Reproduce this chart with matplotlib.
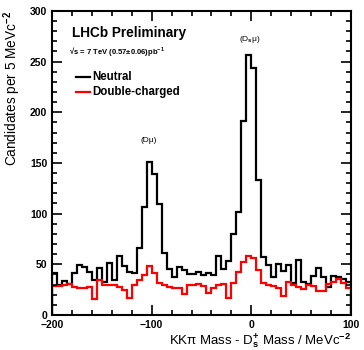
import matplotlib
matplotlib.use("Agg")
import matplotlib.pyplot as plt
import numpy as np

plt.rcParams['font.family'] = ['Liberation Sans', 'DejaVu Sans']
plt.rcParams['font.weight'] = 'bold'
plt.rcParams['mathtext.fontset'] = 'custom'
plt.rcParams['mathtext.rm'] = 'Liberation Sans:bold'
plt.rcParams['mathtext.it'] = 'Liberation Sans:bold'
plt.rcParams['mathtext.bf'] = 'Liberation Sans:bold'

# 5 MeV bins from -200 to 100
bin_edges = np.arange(-200, 101, 5)

neutral = [41, 30, 34, 31, 41, 49, 47, 42, 35, 46,
           33, 51, 35, 58, 48, 42, 41, 66, 107, 151,
           139, 109, 61, 45, 37, 47, 44, 40, 40, 42,
           39, 41, 39, 58, 45, 53, 80, 102, 191, 256,
           244, 133, 57, 49, 37, 50, 43, 49, 32, 54,
           33, 31, 38, 46, 37, 28, 38, 37, 36, 33]

double_charged = [29, 29, 30, 31, 28, 27, 27, 28, 16, 35,
                  30, 30, 30, 28, 25, 17, 30, 35, 39, 48,
                  41, 32, 30, 28, 27, 27, 21, 30, 30, 31,
                  29, 22, 27, 30, 31, 17, 32, 42, 52, 58,
                  56, 44, 32, 30, 29, 27, 19, 33, 30, 28,
                  26, 30, 29, 24, 24, 31, 33, 36, 32, 27]

fig = plt.figure(figsize=(3.64, 3.5), dpi=100)
ax = fig.add_axes([0.143, 0.1, 0.821, 0.869])

ax.stairs(neutral, bin_edges, color='black', lw=1.6)
ax.stairs(double_charged, bin_edges, color='#ff0000', lw=1.6)

ax.set_xlim(-200, 100)
ax.set_ylim(0, 300)

ax.set_xticks([-200, -100, 0, 100])
ax.set_xticks(np.arange(-200, 101, 20), minor=True)
ax.set_yticks(np.arange(0, 301, 50))
ax.set_yticks(np.arange(0, 301, 10), minor=True)
ax.tick_params(which='both', direction='in', top=True, right=True,
               width=1.2, labelsize=7.5)
ax.tick_params(which='major', length=7)
ax.tick_params(which='minor', length=3.5)
for spine in ax.spines.values():
    spine.set_linewidth(1.5)

ax.set_xlabel('KK\u03c0 Mass - D$_{\\rm s}^{+}$ Mass / MeVc$^{-2}$',
              fontsize=9.5, loc='right', labelpad=1)
ax.set_ylabel('Candidates per 5 MeVc$^{-2}$', fontsize=9.8,
              loc='top', labelpad=5)

ax.text(0.067, 0.928, 'LHCb Preliminary', transform=ax.transAxes,
        fontsize=9.8, va='center')
ax.text(0.058, 0.865, '\u221as = 7 TeV (0.57\u00b10.06)pb$^{-1}$',
        transform=ax.transAxes, fontsize=5.5, va='center')

# legend drawn by hand
ax.plot([0.08, 0.128], [0.783, 0.783], color='black', lw=1.6,
        transform=ax.transAxes)
ax.text(0.136, 0.783, 'Neutral', transform=ax.transAxes, fontsize=8.3,
        va='center')
ax.plot([0.08, 0.128], [0.734, 0.734], color='#ff0000', lw=1.6,
        transform=ax.transAxes)
ax.text(0.136, 0.734, 'Double-charged', transform=ax.transAxes,
        fontsize=8.3, va='center')

ax.text(-103, 172, '(D\u03bc)', fontsize=6, ha='center', va='center',
        fontweight='normal')
ax.text(-2, 272, '(D$_{\\rm s}$\u03bc)', fontsize=6, ha='center',
        va='center', fontweight='normal')

fig.savefig('out.png', dpi=100)
